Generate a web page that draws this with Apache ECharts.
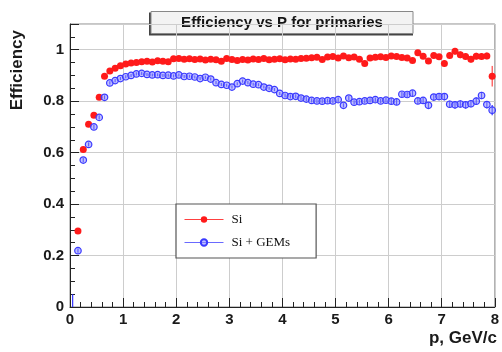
<!DOCTYPE html>
<html>
<head>
<meta charset="utf-8">
<script src="https://cdn.jsdelivr.net/npm/echarts@6/dist/echarts.min.js"></script>
<style>
  html, body { margin: 0; padding: 0; background: #fff; }
  #chart { width: 502px; height: 352px; }
</style>
</head>
<body>
<div id="chart"></div>
<script>
// Momentum bin centres, GeV/c
const pBins = [
  0.05, 0.15, 0.25, 0.35, 0.45, 0.55, 0.65, 0.75, 0.85, 0.95,
  1.05, 1.15, 1.25, 1.35, 1.45, 1.55, 1.65, 1.75, 1.85, 1.95,
  2.05, 2.15, 2.25, 2.35, 2.45, 2.55, 2.65, 2.75, 2.85, 2.95,
  3.05, 3.15, 3.25, 3.35, 3.45, 3.55, 3.65, 3.75, 3.85, 3.95,
  4.05, 4.15, 4.25, 4.35, 4.45, 4.55, 4.65, 4.75, 4.85, 4.95,
  5.05, 5.15, 5.25, 5.35, 5.45, 5.55, 5.65, 5.75, 5.85, 5.95,
  6.05, 6.15, 6.25, 6.35, 6.45, 6.55, 6.65, 6.75, 6.85, 6.95,
  7.05, 7.15, 7.25, 7.35, 7.45, 7.55, 7.65, 7.75, 7.85, 7.95
];

// Efficiency, silicon tracker only
const effSi = [
  null, 0.295, 0.612, 0.710, 0.745, 0.815, 0.897, 0.917, 0.928, 0.938,
  0.945, 0.948, 0.950, 0.953, 0.955, 0.952, 0.957, 0.955, 0.953, 0.965,
  0.966, 0.963, 0.965, 0.962, 0.964, 0.960, 0.963, 0.961, 0.955, 0.966,
  0.962, 0.958, 0.962, 0.960, 0.964, 0.962, 0.966, 0.961, 0.963, 0.965,
  0.961, 0.964, 0.963, 0.966, 0.967, 0.969, 0.971, 0.962, 0.972, 0.974,
  0.968, 0.976, 0.969, 0.972, 0.963, 0.946, 0.968, 0.971, 0.973, 0.970,
  0.976, 0.974, 0.970, 0.968, 0.958, 0.988, 0.975, 0.956, 0.978, 0.973,
  0.946, 0.978, 0.994, 0.980, 0.974, 0.963, 0.975, 0.974, 0.976, 0.897
];
const errSi = [
  null, 0.008, 0.008, 0.008, 0.008, 0.008, 0.008, 0.006, 0.005, 0.005,
  0.005, 0.005, 0.005, 0.005, 0.005, 0.005, 0.005, 0.005, 0.005, 0.005,
  0.005, 0.005, 0.005, 0.005, 0.005, 0.005, 0.005, 0.005, 0.005, 0.005,
  0.005, 0.005, 0.005, 0.005, 0.005, 0.005, 0.005, 0.005, 0.005, 0.005,
  0.007, 0.007, 0.007, 0.007, 0.007, 0.007, 0.007, 0.007, 0.007, 0.007,
  0.007, 0.007, 0.007, 0.007, 0.007, 0.007, 0.007, 0.007, 0.007, 0.007,
  0.01, 0.01, 0.01, 0.01, 0.01, 0.01, 0.01, 0.01, 0.01, 0.01,
  0.013, 0.013, 0.013, 0.013, 0.013, 0.013, 0.013, 0.013, 0.013, 0.04
];

// Efficiency, silicon tracker + GEM detectors
const effSiGem = [
  0.0, 0.219, 0.571, 0.632, 0.700, 0.737, 0.815, 0.871, 0.880, 0.888,
  0.895, 0.900, 0.906, 0.908, 0.904, 0.902, 0.903, 0.900, 0.901, 0.898,
  0.902, 0.896, 0.897, 0.894, 0.888, 0.893, 0.886, 0.872, 0.865, 0.862,
  0.855, 0.868, 0.878, 0.872, 0.866, 0.864, 0.855, 0.850, 0.845, 0.830,
  0.822, 0.818, 0.819, 0.812, 0.808, 0.803, 0.801, 0.800, 0.802, 0.801,
  0.806, 0.784, 0.812, 0.796, 0.798, 0.801, 0.803, 0.806, 0.801, 0.804,
  0.800, 0.797, 0.827, 0.826, 0.831, 0.801, 0.803, 0.784, 0.816, 0.818,
  0.818, 0.788, 0.786, 0.789, 0.786, 0.790, 0.800, 0.822, 0.787, 0.765
];
const errSiGem = [
  0.05, 0.008, 0.008, 0.008, 0.008, 0.008, 0.008, 0.006, 0.006, 0.006,
  0.006, 0.006, 0.006, 0.006, 0.006, 0.006, 0.006, 0.006, 0.006, 0.006,
  0.006, 0.006, 0.006, 0.006, 0.006, 0.006, 0.006, 0.006, 0.006, 0.006,
  0.006, 0.006, 0.006, 0.006, 0.006, 0.006, 0.006, 0.006, 0.006, 0.006,
  0.008, 0.008, 0.008, 0.008, 0.008, 0.008, 0.008, 0.008, 0.008, 0.008,
  0.008, 0.008, 0.008, 0.008, 0.008, 0.008, 0.008, 0.008, 0.008, 0.008,
  0.011, 0.011, 0.011, 0.011, 0.011, 0.011, 0.011, 0.011, 0.011, 0.011,
  0.014, 0.014, 0.014, 0.014, 0.014, 0.014, 0.014, 0.014, 0.014, 0.02
];

const seriesNames = ['Si', 'Si + GEMs'];
const xTitle = 'p, GeV/c';
const yTitle = 'Efficiency';
const plotTitle = 'Efficiency vs P for primaries';

const SANS = '"Liberation Sans", Arial, Helvetica, sans-serif';
const SERIF = '"Liberation Serif", "Times New Roman", serif';

function points(vals) {
  return pBins.map((p, i) => {
    if (vals[i] === null) return [p, null];
    // an empty bin shows only its error bar
    if (vals[i] === 0) return { value: [p, 0], symbolSize: 0 };
    return [p, vals[i]];
  });
}

function errorData(vals, errs) {
  const out = [];
  pBins.forEach((p, i) => {
    if (vals[i] !== null && errs[i] !== null) out.push([p, vals[i], errs[i]]);
  });
  return out;
}

function errorBars(color, width) {
  return function (params, api) {
    const x = api.value(0), y = api.value(1), e = api.value(2);
    const lo = api.coord([x, Math.max(0, y - e)]);
    const hi = api.coord([x, y + e]);
    return {
      type: 'line',
      shape: { x1: lo[0], y1: lo[1], x2: hi[0], y2: hi[1] },
      style: { stroke: color, lineWidth: width }
    };
  };
}

const chart = echarts.init(document.getElementById('chart'), null, { renderer: 'canvas' });

const axisLabelStyle = {
  fontFamily: SANS, fontWeight: 'bold', fontSize: 15, color: '#1a1a1a'
};

chart.setOption({
  animation: false,
  backgroundColor: '#fff',
  grid: {
    left: 70, right: 5, top: 24, bottom: 45,
    show: true, borderColor: '#8c8c8c', borderWidth: 1, backgroundColor: '#fff'
  },
  xAxis: {
    type: 'value', min: 0, max: 8, interval: 1,
    axisLine: { onZero: false, lineStyle: { color: '#222', width: 1 } },
    axisTick: { inside: true, length: 9, lineStyle: { color: '#222' } },
    minorTick: { show: true, splitNumber: 5, length: 5, lineStyle: { color: '#222' } },
    splitLine: { show: true, lineStyle: { color: '#cdcdcd', width: 1 } },
    axisLabel: Object.assign({ margin: 5 }, axisLabelStyle)
  },
  yAxis: {
    type: 'value', min: 0, max: 1.1, interval: 0.2,
    axisLine: { onZero: false, lineStyle: { color: '#222', width: 1 } },
    axisTick: { inside: true, length: 9, lineStyle: { color: '#222' } },
    minorTick: { show: true, splitNumber: 4, length: 5, lineStyle: { color: '#222' } },
    splitLine: { show: true, lineStyle: { color: '#cdcdcd', width: 1 } },
    axisLabel: Object.assign({ margin: 6, showMaxLabel: false }, axisLabelStyle)
  },
  legend: {
    orient: 'vertical',
    left: 176, top: 204,
    padding: [9, 26, 9, 8],
    itemGap: 10,
    itemWidth: 39, itemHeight: 8,
    borderColor: '#555', borderWidth: 1.2,
    backgroundColor: '#fff',
    textStyle: { fontFamily: SERIF, fontSize: 13, color: '#111', padding: [0, 0, 0, 3] },
    lineStyle: { width: 1, opacity: 1 },
    data: seriesNames
  },
  graphic: [
    {
      type: 'text', left: 9, top: 30, rotation: Math.PI / 2,
      style: { text: yTitle, font: 'bold 17px ' + SANS, fill: '#1a1a1a' }
    },
    {
      type: 'text', right: 5, top: 330,
      style: { text: xTitle, font: 'bold 17px ' + SANS, fill: '#1a1a1a' }
    },
    {
      type: 'group', left: 149, top: 11,
      children: [
        { type: 'rect', shape: { x: 0, y: 1, width: 264, height: 23 }, style: { fill: '#444' } },
        { type: 'rect', shape: { x: 2, y: 0, width: 262, height: 22 }, style: { fill: '#f3f3f3', stroke: '#888', lineWidth: 1 } },
        {
          type: 'text', x: 133, y: 11,
          style: { text: plotTitle, font: 'bold 15px ' + SANS, fill: '#151515', align: 'center', verticalAlign: 'middle' }
        }
      ]
    }
  ],
  series: [
    {
      type: 'custom', name: 'errSi', silent: true, z: 2,
      renderItem: errorBars('#ff2020', 1),
      encode: { x: 0, y: 1 },
      data: errorData(effSi, errSi)
    },
    {
      type: 'custom', name: 'errSiGem', silent: true, z: 2,
      renderItem: errorBars('#3030ff', 1.2),
      encode: { x: 0, y: 1 },
      data: errorData(effSiGem, errSiGem)
    },
    {
      type: 'line', name: seriesNames[0], z: 3,
      data: points(effSi),
      symbol: 'circle', symbolSize: 7, showSymbol: true,
      connectNulls: false,
      itemStyle: { color: '#ff1a1a', borderColor: '#ff1a1a', borderWidth: 0 },
      lineStyle: { color: '#ff4040', width: 1, opacity: 0 }
    },
    {
      type: 'line', name: seriesNames[1], z: 4,
      data: points(effSiGem),
      symbol: 'circle', symbolSize: 6.5, showSymbol: true,
      itemStyle: { color: 'rgba(140,140,255,0.55)', borderColor: '#3a3aff', borderWidth: 1.2 },
      lineStyle: { color: '#6a6aff', width: 1, opacity: 0 }
    }
  ]
});
</script>
</body>
</html>
